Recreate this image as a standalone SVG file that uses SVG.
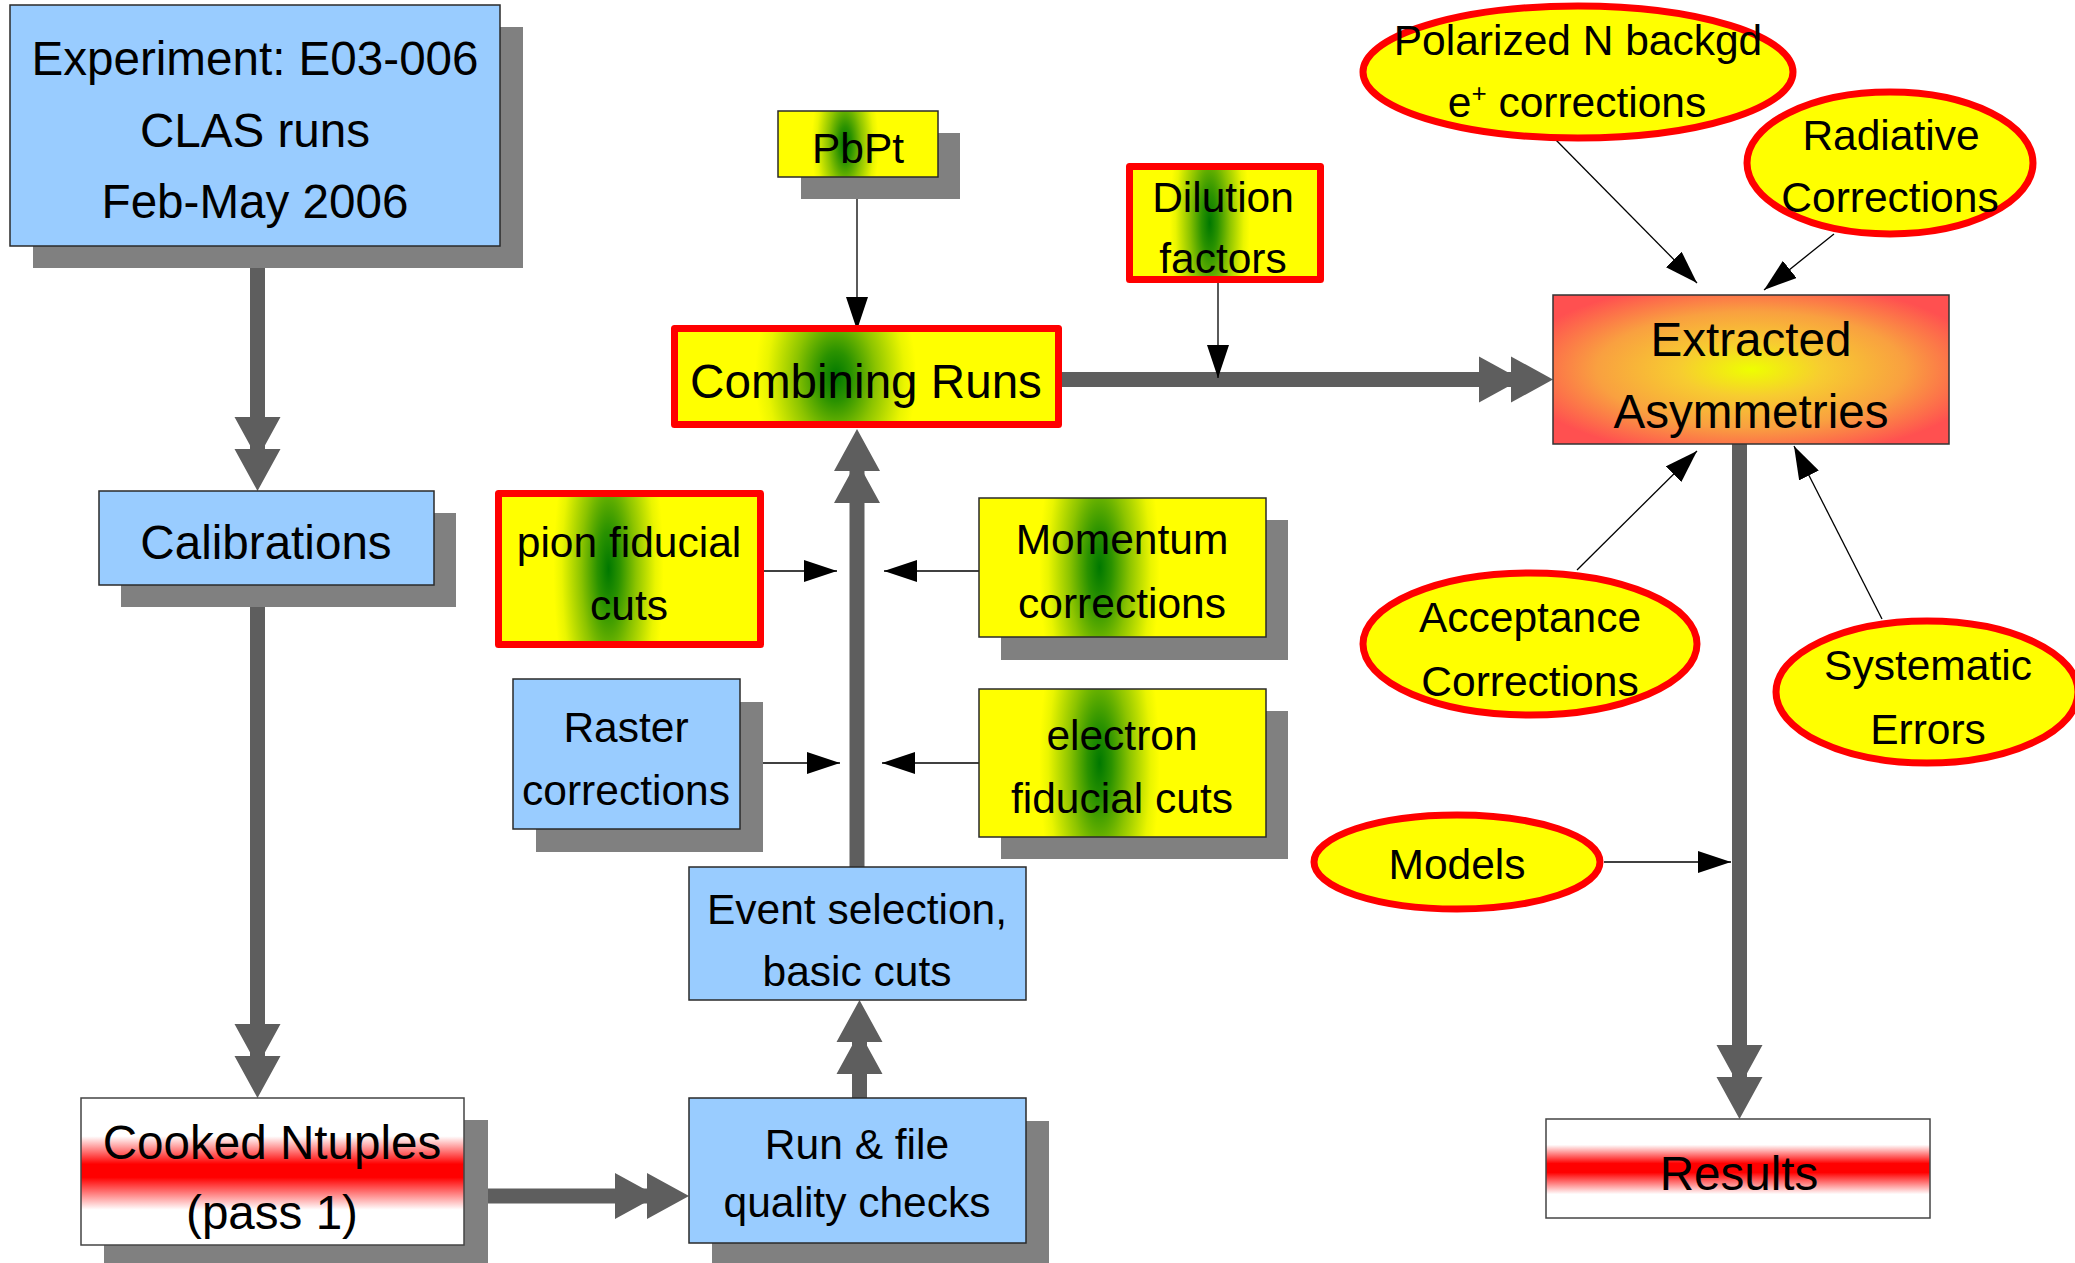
<svg xmlns="http://www.w3.org/2000/svg" width="2075" height="1263" viewBox="0 0 2075 1263">
<defs>
<style>
.t{font-family:"Liberation Sans",Arial,sans-serif;fill:#000;text-anchor:middle}
.big{font-size:47.6px}
.sm{font-size:42.5px}
.sh{fill:#808080}
.blue{fill:#99ccff;stroke:#2a2a2a;stroke-width:1.5}
.yg{fill:url(#yg)}
.thinb{stroke:#2a2a2a;stroke-width:1.5}
.redb{stroke:#ff0000;stroke-width:7;stroke-linejoin:round}
.ell{fill:#ffff00;stroke:#ff0000;stroke-width:7}
.band{fill:url(#band);stroke:#444;stroke-width:1.5}
.thick{stroke:#5e5e5e;stroke-width:15;fill:none;marker-end:url(#dbl)}
.thin{stroke:#000;stroke-width:1.3;fill:none;marker-end:url(#tri)}
</style>
<radialGradient id="yg" cx="0.42" cy="0.5" r="0.5" gradientTransform="translate(0.42 0.5) scale(0.42 2.6) translate(-0.42 -0.5)">
<stop offset="0" stop-color="#007800"/>
<stop offset="0.2" stop-color="#2a9200"/>
<stop offset="0.5" stop-color="#8cc400"/>
<stop offset="0.85" stop-color="#eaf500"/>
<stop offset="1" stop-color="#ffff00"/>
</radialGradient>
<linearGradient id="band" x1="0" y1="0" x2="0" y2="1">
<stop offset="0" stop-color="#ffffff"/>
<stop offset="0.26" stop-color="#ffffff"/>
<stop offset="0.45" stop-color="#ff0000"/>
<stop offset="0.54" stop-color="#ff0000"/>
<stop offset="0.76" stop-color="#ffffff"/>
<stop offset="1" stop-color="#ffffff"/>
</linearGradient>
<radialGradient id="ext" cx="0.5" cy="0.5" r="0.6">
<stop offset="0" stop-color="#eeff00"/>
<stop offset="0.3" stop-color="#f7cc30"/>
<stop offset="0.65" stop-color="#f9a040"/>
<stop offset="1" stop-color="#ff5050"/>
</radialGradient>
<marker id="dbl" markerUnits="userSpaceOnUse" viewBox="0 0 76 48" refX="36" refY="24" markerWidth="76" markerHeight="48" orient="auto">
<path d="M2,1 L44,24 L2,47 Z M34,1 L76,24 L34,47 Z" fill="#5e5e5e"/>
</marker>
<marker id="tri" markerUnits="userSpaceOnUse" viewBox="0 0 33 22" refX="33" refY="11" markerWidth="33" markerHeight="22" orient="auto">
<path d="M0,0 L33,11 L0,22 Z" fill="#000"/>
</marker>
</defs>
<rect width="2075" height="1263" fill="#fff"/>

<g id="connectors">
<line class="thick" x1="257.5" y1="246" x2="257.5" y2="451"/>
<line class="thick" x1="257.5" y1="585" x2="257.5" y2="1058"/>
<line class="thick" x1="465" y1="1196" x2="649" y2="1196"/>
<line class="thick" x1="859.5" y1="1098" x2="859.5" y2="1040"/>
<line class="thick" x1="857" y1="867" x2="857" y2="469"/>
<line class="thick" x1="1062" y1="379.5" x2="1513" y2="379.5"/>
<line class="thick" x1="1739.5" y1="444" x2="1739.5" y2="1079"/>
<line class="thin" x1="857" y1="187" x2="857" y2="330"/>
<line class="thin" x1="1218" y1="283" x2="1218" y2="378"/>
<line class="thin" x1="764" y1="571" x2="837" y2="571"/>
<line class="thin" x1="979" y1="571" x2="884" y2="571"/>
<line class="thin" x1="740" y1="763" x2="840" y2="763"/>
<line class="thin" x1="979" y1="763" x2="882" y2="763"/>
<line class="thin" x1="1555" y1="139" x2="1697" y2="283"/>
<line class="thin" x1="1834" y1="234" x2="1764" y2="290"/>
<line class="thin" x1="1577" y1="570" x2="1697" y2="451"/>
<line class="thin" x1="1882" y1="619" x2="1794" y2="446"/>
<line class="thin" x1="1604" y1="862" x2="1731" y2="862"/>
</g>

<g id="experiment">
<rect class="sh" x="33" y="27" width="490" height="241"/>
<rect class="blue" x="10" y="5" width="490" height="241"/>
<text class="t big" x="255" y="75">Experiment: E03-006</text>
<text class="t big" x="255" y="147">CLAS runs</text>
<text class="t big" x="255" y="218">Feb-May 2006</text>
</g>

<g id="calibrations">
<rect class="sh" x="121" y="513" width="335" height="94"/>
<rect class="blue" x="99" y="491" width="335" height="94"/>
<text class="t big" x="266" y="559">Calibrations</text>
</g>

<g id="cooked">
<rect class="sh" x="104" y="1120" width="384" height="150"/>
<rect class="band" x="81" y="1098" width="383" height="147"/>
<text class="t big" x="272" y="1159">Cooked Ntuples</text>
<text class="t big" x="272" y="1229">(pass 1)</text>
</g>

<g id="runfile">
<rect class="sh" x="712" y="1121" width="337" height="150"/>
<rect class="blue" x="689" y="1098" width="337" height="145"/>
<text class="t sm" x="857" y="1159">Run &amp; file</text>
<text class="t sm" x="857" y="1217">quality checks</text>
</g>

<g id="event">
<rect class="blue" x="689" y="867" width="337" height="133"/>
<text class="t sm" x="857" y="924">Event selection,</text>
<text class="t sm" x="857" y="986">basic cuts</text>
</g>

<g id="raster">
<rect class="sh" x="536" y="702" width="227" height="150"/>
<rect class="blue" x="513" y="679" width="227" height="150"/>
<text class="t sm" x="626" y="742">Raster</text>
<text class="t sm" x="626" y="805">corrections</text>
</g>

<g id="pion">
<rect class="yg redb" x="498.5" y="493.5" width="262" height="151"/>
<text class="t sm" x="629" y="557">pion fiducial</text>
<text class="t sm" x="629" y="620">cuts</text>
</g>

<g id="momentum">
<rect class="sh" x="1001" y="520" width="287" height="140"/>
<rect class="yg thinb" x="979" y="498" width="287" height="139"/>
<text class="t sm" x="1122" y="554">Momentum</text>
<text class="t sm" x="1122" y="618">corrections</text>
</g>

<g id="electron">
<rect class="sh" x="1001" y="711" width="287" height="148"/>
<rect class="yg thinb" x="979" y="689" width="287" height="148"/>
<text class="t sm" x="1122" y="750">electron</text>
<text class="t sm" x="1122" y="813">fiducial cuts</text>
</g>

<g id="combining">
<rect class="yg redb" x="674.5" y="328.5" width="384" height="96"/>
<text class="t big" x="866" y="398">Combining Runs</text>
</g>

<g id="pbpt">
<rect class="sh" x="801" y="133" width="159" height="66"/>
<rect class="yg thinb" x="778" y="111" width="160" height="66"/>
<text class="t sm" x="858" y="163">PbPt</text>
</g>

<g id="dilution">
<rect class="yg redb" x="1129.5" y="166.5" width="191" height="113"/>
<text class="t sm" x="1223" y="212">Dilution</text>
<text class="t sm" x="1223" y="273">factors</text>
</g>

<g id="extracted">
<rect x="1553" y="295" width="396" height="149" fill="url(#ext)" stroke="#333" stroke-width="1.5"/>
<text class="t big" x="1751" y="356">Extracted</text>
<text class="t big" x="1751" y="428">Asymmetries</text>
</g>

<g id="results">
<rect class="band" x="1546" y="1119" width="384" height="99"/>
<text class="t big" x="1739" y="1190">Results</text>
</g>

<g id="polarized">
<ellipse class="ell" cx="1578" cy="72" rx="215" ry="66"/>
<text class="t sm" x="1578" y="55">Polarized N backgd</text>
<text class="t sm" x="1577" y="117">e<tspan font-size="26" baseline-shift="super">+</tspan> corrections</text>
</g>

<g id="radiative">
<ellipse class="ell" cx="1890" cy="163" rx="143" ry="71"/>
<text class="t sm" x="1891" y="150">Radiative</text>
<text class="t sm" x="1890" y="212">Corrections</text>
</g>

<g id="acceptance">
<ellipse class="ell" cx="1530" cy="644" rx="167" ry="71"/>
<text class="t sm" x="1530" y="632">Acceptance</text>
<text class="t sm" x="1530" y="696">Corrections</text>
</g>

<g id="systematic">
<ellipse class="ell" cx="1927" cy="692" rx="151" ry="71"/>
<text class="t sm" x="1928" y="680">Systematic</text>
<text class="t sm" x="1928" y="744">Errors</text>
</g>

<g id="models">
<ellipse class="ell" cx="1457" cy="862" rx="143" ry="47"/>
<text class="t sm" x="1457" y="879">Models</text>
</g>
</svg>
